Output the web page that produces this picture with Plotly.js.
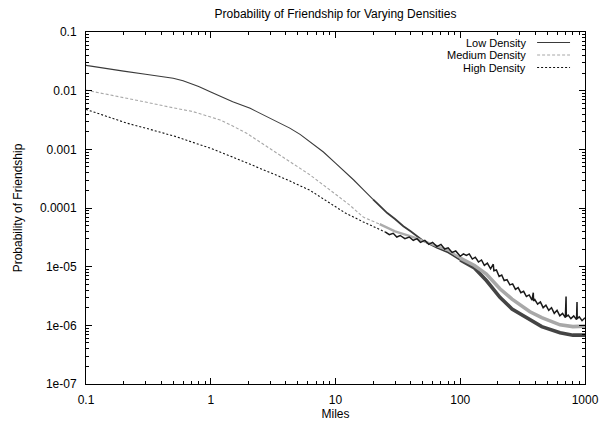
<!DOCTYPE html>
<html><head><meta charset="utf-8">
<script src="https://cdn.plot.ly/plotly-3.0.1.min.js"></script>
<style>html,body{margin:0;padding:0;background:#fff}</style>
</head><body><div id="chart" style="width:600px;height:422px"></div>
<script>
const seriesNames = ["Low Density", "Medium Density", "High Density"];

const lowX = [0.1,0.15,0.2,0.3,0.4,0.5,0.6,0.7,0.8,1.0,1.5,2.07,3.0,4.3,5.2,6.25,8,10,12,14,16.7,20,22.7,26,30,35,40,50,65,80,100,130,162,208,260,362,450,631,800,1000];
const lowY = [0.027,0.024,0.0215,0.019,0.0175,0.0163,0.0148,0.0132,0.0118,0.0095,0.0065,0.005,0.0034,0.0023,0.0018,0.00135,0.0009,0.00058,0.00041,0.0003,0.000205,0.00014,0.000108,0.000082,0.000065,0.000049,0.00004,0.000028,0.000021,0.0000175,0.000013,0.0000095,0.0000058,0.000003,0.0000019,0.00000125,0.00000095,0.00000075,0.00000068,0.00000068];

const medX = [0.1,0.2,0.3,0.5,0.72,1.0,1.19,1.5,1.94,2.5,3.17,4.5,6.25,10,13,16.7,22.6,30,42,60,80,100,130,162,208,260,362,450,631,800,1000];
const medY = [0.0102,0.0077,0.0064,0.0051,0.0044,0.00355,0.00316,0.0025,0.00188,0.00132,0.00095,0.00058,0.000366,0.000172,0.000112,0.00007,0.000053,0.00004,0.000032,0.000024,0.000019,0.000014,0.0000105,0.0000075,0.0000042,0.0000028,0.0000017,0.00000135,0.00000102,0.00000095,0.00000097];

const highX = [0.1,0.15,0.212,0.3,0.53,0.7,1.0,1.5,2.48,4,6.25,9,12,16.7,20,22.6,25,27,29,31,33,36,39,42,45,48,52,56,60,65,70,75,80,86,92,100,106,112,118,125,132,140,148,156,165,175,184,186,195,205,215,225,237,250,263,277,291,306,322,339,357,376,385,387,396,417,439,462,486,512,539,567,597,628,661,696,705,708,733,771,812,855,863,866,900,947,1000];
const highY = [0.0048,0.0036,0.0028,0.0023,0.00164,0.00134,0.00104,0.00074,0.00048,0.00031,0.0002,0.00012,0.000082,0.000058,0.000048,0.000043,0.000039,0.000035,0.000037,0.000032,0.000034,0.00003,0.000032,0.000028,0.00003,0.000026,0.000028,0.000024,0.000026,0.000022,0.000024,0.00002,0.000021,0.0000175,0.0000185,0.000015,0.0000165,0.0000155,0.0000165,0.0000135,0.0000145,0.000012,0.000013,0.0000105,0.0000115,0.0000092,0.000011,0.0000085,0.0000088,0.0000068,0.0000072,0.0000058,0.000006,0.0000049,0.0000051,0.0000041,0.0000044,0.0000036,0.0000038,0.0000031,0.0000033,0.0000027,0.0000036,0.0000026,0.00000275,0.0000023,0.0000025,0.000002,0.0000022,0.0000018,0.000002,0.0000016,0.0000018,0.00000145,0.0000016,0.00000135,0.0000031,0.0000014,0.0000015,0.0000013,0.00000145,0.00000125,0.0000025,0.0000013,0.0000014,0.0000012,0.00000135];

const xTickVals = [0.1, 1, 10, 100, 1000];
const xTickText = ["0.1", "1", "10", "100", "1000"];
const yTickVals = [1e-7, 1e-6, 1e-5, 1e-4, 1e-3, 1e-2, 1e-1];
const yTickText = ["1e-07", "1e-06", "1e-05", "0.0001", "0.001", "0.01", "0.1"];

function minorVals(lo, hi) {
  const out = [];
  for (let k = lo; k < hi; k++) for (let d = 2; d <= 9; d++) out.push(d * Math.pow(10, k));
  return out;
}

const FONT = "Liberation Sans, Arial, Helvetica, sans-serif";

// segments: [startX, width, dash, color]
const styles = [
  {color: "#3a3a3a", dash: "solid", segs: [[0, 1.1, "solid", "#3a3a3a"], [20, 1.8, "solid", "#3a3a3a"], [90, 3.6, "solid", "#444444"]]},
  {color: "#a8a8a8", dash: "3px,2px", segs: [[0, 1.1, "3px,2px", "#a8a8a8"], [22, 2.4, "solid", "#acacac"], [90, 3.6, "solid", "#a8a8a8"]]},
  {color: "#111111", dash: "2px,2px", segs: [[0, 1.1, "2px,2px", "#111111"], [24, 1.5, "solid", "#1a1a1a"]]}
];
const allX = [lowX, medX, highX];
const allY = [lowY, medY, highY];

const traces = [];
for (let s = 0; s < 3; s++) {
  const xs = allX[s], ys = allY[s], segs = styles[s].segs;
  for (let k = 0; k < segs.length; k++) {
    const i0 = k === 0 ? 0 : xs.findIndex(v => v >= segs[k][0]);
    const i1 = k === segs.length - 1 ? xs.length - 1 : xs.findIndex(v => v >= segs[k + 1][0]);
    traces.push({x: xs.slice(i0, i1 + 1), y: ys.slice(i0, i1 + 1), mode: "lines", name: seriesNames[s],
      showlegend: false, hoverinfo: "skip",
      line: {color: segs[k][3], width: segs[k][1], dash: segs[k][2]}});
  }
}

// legend drawn gnuplot-style: text then sample
const annotations = [];
const shapes = [];
const legRowY = [0.970, 0.9345, 0.899];
for (let s = 0; s < 3; s++) {
  annotations.push({xref: "paper", yref: "paper", x: 0.884, y: legRowY[s], xanchor: "right", yanchor: "middle",
    text: seriesNames[s], showarrow: false, font: {family: FONT, size: 11, color: "#000"},
    borderpad: 0});
  shapes.push({type: "line", xref: "paper", yref: "paper", x0: 0.904, x1: 0.970, y0: legRowY[s], y1: legRowY[s],
    line: {color: styles[s].color, width: 1.1, dash: styles[s].dash}});
}

const axisCommon = {
  type: "log", showgrid: false, zeroline: false, showline: true, linecolor: "#000", linewidth: 1,
  mirror: "allticks", ticks: "inside", ticklen: 6, tickcolor: "#000", tickwidth: 1,
  tickfont: {family: FONT, size: 12, color: "#000"}, tickmode: "array"
};

const layout = {
  width: 600, height: 422,
  margin: {l: 86, r: 15, t: 32, b: 38},
  paper_bgcolor: "#fff", plot_bgcolor: "#fff",
  showlegend: false,
  title: {text: "Probability of Friendship for Varying Densities", x: 0.5, xref: "paper", xanchor: "center",
    y: 1 - 14 / 422, yref: "container", yanchor: "middle", font: {family: FONT, size: 12, color: "#000"}},
  xaxis: Object.assign({}, axisCommon, {range: [-1, 3], tickvals: xTickVals, ticktext: xTickText,
    ticklabelstandoff: 5,
    minor: {tickmode: "array", tickvals: minorVals(-1, 3), ticks: "inside", ticklen: 3, tickcolor: "#000"},
    title: {text: "Miles", font: {family: FONT, size: 12, color: "#000"}, standoff: 2}}),
  yaxis: Object.assign({}, axisCommon, {range: [-7, -1], tickvals: yTickVals, ticktext: yTickText,
    ticklabelstandoff: 6,
    minor: {tickmode: "array", tickvals: minorVals(-7, -1), ticks: "inside", ticklen: 3, tickcolor: "#000"},
    title: {text: "Probability of Friendship", font: {family: FONT, size: 12, color: "#000"}, standoff: 14}}),
  annotations: annotations,
  shapes: shapes
};

Plotly.newPlot("chart", traces, layout, {staticPlot: true, displayModeBar: false});
</script>
</body></html>
